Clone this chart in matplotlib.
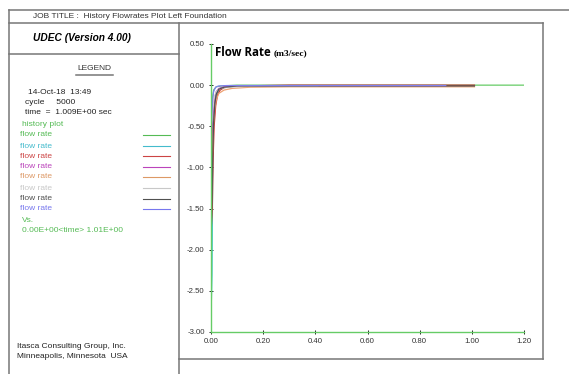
import matplotlib
matplotlib.use("Agg")
import matplotlib.pyplot as plt
from matplotlib.lines import Line2D
from matplotlib.ticker import FormatStrFormatter

plt.rcParams['font.family'] = ['Liberation Sans', 'DejaVu Sans']
plt.rcParams['axes.unicode_minus'] = False

W, H = 569, 374

# flow rate histories (time in s, flow rate in m3/sec)
green_t = [0.0, 0.002, 0.004, 0.006, 0.01, 0.02, 0.04, 0.1, 0.4, 1.2]
green_q = [-3.0, -1.6, -0.45, -0.15, -0.06, -0.02, -0.01, 0.0, 0.0, 0.0]
cyan_t = [0.0, 0.004, 0.006, 0.008, 0.012, 0.02, 0.03, 0.05, 0.1, 0.41]
cyan_q = [-2.8, -2.3, -1.2, -0.6, -0.3, -0.12, -0.06, -0.03, -0.01, -0.01]
red_t = [0.0, 0.005, 0.008, 0.012, 0.018, 0.025, 0.035, 0.05, 0.1, 0.3, 1.01]
red_q = [-1.8, -1.5, -0.9, -0.5, -0.25, -0.12, -0.06, -0.03, -0.01, 0.0, 0.0]
magenta_t = [0.0, 0.004, 0.007, 0.01, 0.015, 0.02, 0.03, 0.05, 0.1, 0.9]
magenta_q = [-0.9, -0.7, -0.45, -0.28, -0.15, -0.08, -0.04, -0.02, -0.01, -0.01]
orange_t = [0.0, 0.006, 0.01, 0.015, 0.02, 0.03, 0.05, 0.08, 0.15, 0.3, 1.01]
orange_q = [-1.0, -0.8, -0.45, -0.28, -0.18, -0.1, -0.06, -0.04, -0.025, -0.02, -0.02]
lgray_t = [0.0, 0.005, 0.008, 0.012, 0.02, 0.03, 0.05, 0.1, 0.2, 0.41]
lgray_q = [-0.5, -0.4, -0.25, -0.15, -0.08, -0.05, -0.03, -0.02, -0.01, -0.01]
dgray_t = [0.0, 0.004, 0.007, 0.01, 0.015, 0.02, 0.03, 0.05, 0.1, 1.01]
dgray_q = [-1.75, -1.4, -0.8, -0.45, -0.22, -0.11, -0.05, -0.025, -0.01, -0.01]
blue_t = [0.0, 0.002, 0.004, 0.006, 0.01, 0.015, 0.02, 0.03, 0.06, 0.9]
blue_q = [-0.6, -0.5, -0.3, -0.18, -0.08, -0.04, -0.02, -0.01, -0.005, -0.005]

series = [
    (green_t, green_q, '#66cc66'),
    (cyan_t, cyan_q, '#40c8c8'),
    (red_t, red_q, '#cc3333'),
    (magenta_t, magenta_q, '#c040c0'),
    (orange_t, orange_q, '#eea070'),
    (lgray_t, lgray_q, '#cfcfcf'),
    (dgray_t, dgray_q, '#505050'),
    (blue_t, blue_q, '#8080f0'),
]
legend_colors = ['#55bb55', '#44bbcc', '#cc4444', '#bb44bb',
                 '#dd9966', '#c8c8c8', '#505050', '#7777ee']

x_ticks = [0.0, 0.2, 0.4, 0.6, 0.8, 1.0, 1.2]
y_ticks = [0.5, 0.0, -0.5, -1.0, -1.5, -2.0, -2.5, -3.0]


def fx(px):
    return px / W


def fy(py):
    return 1 - py / H


fig = plt.figure(figsize=(W / 100, H / 100), dpi=100)


def hline(y, x0, x1):
    fig.add_artist(Line2D([fx(x0), fx(x1)], [fy(y), fy(y)], color='#777777', lw=1.1))


def vline(x, y0, y1):
    fig.add_artist(Line2D([fx(x), fx(x)], [fy(y0), fy(y1)], color='#777777', lw=1.1))


# page frame
hline(10, 9, 569)
vline(9, 10, 374)
hline(23, 9, 543)
vline(543, 23, 359)
vline(179, 23, 374)
hline(54, 9, 179)
hline(359, 179, 543)

fs = 6
fig.text(fx(33), fy(17), 'JOB TITLE :  History Flowrates Plot Left Foundation',
         fontsize=fs, color='#333333', va='center')
fig.text(fx(33), fy(38), 'UDEC (Version 4.00)', fontsize=7.3, fontweight='bold',
         fontstyle='italic', va='center')
fig.text(fx(94), fy(69), 'LEGEND', fontsize=fs, color='#333333', ha='center', va='center')
hline(75, 76, 113)

fig.text(fx(28), fy(92), '14-Oct-18  13:49', fontsize=fs, color='#222222', va='center')
fig.text(fx(25), fy(102), 'cycle     5000', fontsize=fs, color='#222222', va='center')
fig.text(fx(25), fy(113), 'time  =  1.009E+00 sec', fontsize=fs, color='#222222', va='center')
fig.text(fx(22), fy(124), 'history plot', fontsize=fs, color='#55bb55', va='center')

row_y = [135, 146, 156, 167, 177, 188, 199, 209]
for ry, c in zip(row_y, legend_colors):
    fig.text(fx(20), fy(ry), 'flow rate', fontsize=fs, color=c, va='center')
    fig.add_artist(Line2D([fx(143), fx(170)], [fy(ry), fy(ry)], color=c, lw=0.8))

fig.text(fx(22), fy(220), 'Vs.', fontsize=fs, color='#55bb55', va='center')
fig.text(fx(22), fy(230), '0.00E+00<time> 1.01E+00', fontsize=fs, color='#55bb55', va='center')

fig.text(fx(17), fy(347), 'Itasca Consulting Group, Inc.', fontsize=fs, color='#222222', va='center')
fig.text(fx(17), fy(357), 'Minneapolis, Minnesota  USA', fontsize=fs, color='#222222', va='center')

ax = fig.add_axes([fx(211), fy(332), (524 - 211) / W, (332 - 44) / H])
for t, q, c in series:
    ax.plot(t, q, color=c, lw=0.9)

ax.set_xlim(0, 1.2)
ax.set_ylim(-3.0, 0.5)
ax.set_xticks(x_ticks)
ax.set_yticks(y_ticks)
ax.xaxis.set_major_formatter(FormatStrFormatter('%.2f'))
ax.yaxis.set_major_formatter(FormatStrFormatter('%.2f'))
ax.tick_params(direction='inout', length=3, width=0.6, labelsize=5.6, labelcolor='#333333', pad=3)
for s in ['top', 'right']:
    ax.spines[s].set_visible(False)
for s in ['left', 'bottom']:
    ax.spines[s].set_color('#66cc66')
    ax.spines[s].set_linewidth(1)
ax.patch.set_alpha(0)

fig.text(fx(215), fy(52), 'Flow Rate', fontsize=8.3, fontweight='bold', family='Open Sans', va='center')
fig.text(fx(274), fy(53), '(m3/sec)', fontsize=6.8, fontweight='bold',
         family='Liberation Serif', va='center')

fig.savefig('out.png', dpi=100)
